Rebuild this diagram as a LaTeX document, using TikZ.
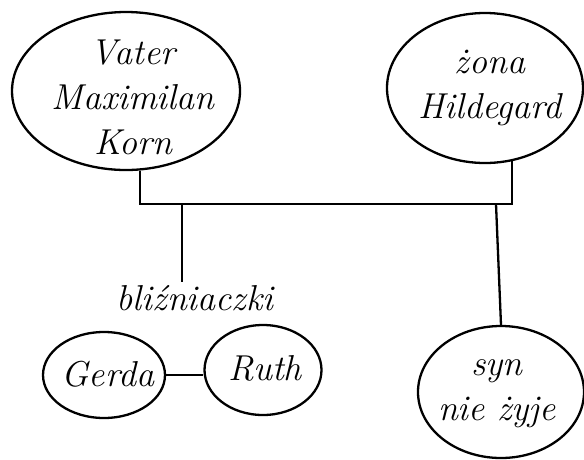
\documentclass[tikz,border=0pt]{standalone}
\usepackage{fontspec}
\usetikzlibrary{shapes.geometric}
\begin{document}
\begin{tikzpicture}[x=1pt,y=-1pt,
  person/.style={draw,ellipse,line width=2.3pt,inner sep=0pt},
  who/.style={align=center,font=\fontsize{36}{45}\selectfont\itshape},
  tie/.style={line width=2.3pt}]
\useasboundingbox (0,0) rectangle (584,459);
% parents
\node[person,minimum width=228pt,minimum height=158pt] (father) at (126,91) {};
\node[who] (fathertext) at (133,97) {Vater\\Maximilan\\Korn};
\node[person,minimum width=196pt,minimum height=150pt] (wife) at (485,88) {};
\node[who] (wifetext) at (490,88) {żona\\Hildegard};
% children
\node[person,minimum width=166pt,minimum height=132pt] (son) at (501,392) {};
\node[who] (sontext) at (497,394) {syn\\nie żyje};
\node[person,minimum width=122pt,minimum height=86pt] (gerda) at (104,375) {};
\node[who] (gerdatext) at (108,374) {Gerda};
\node[person,minimum width=117pt,minimum height=90pt] (ruth) at (263,370) {};
\node[who] (ruthtext) at (265,368) {Ruth};
\node[who] (twins) at (195,298) {bliźniaczki};
% marriage bar and descent lines
\coordinate (bar) at (0,204);
\coordinate (twinstop) at (182,204);
\coordinate (sontop) at (496,204);
\draw[tie] (father.-80) -- (father.-80 |- bar) -| (wife.-70);
\draw[tie] (twinstop) -- (twinstop |- twins.north);
\draw[tie] (sontop) -- (son.north);
\draw[tie] (gerda.east) -- (ruth.west |- gerda.east);
\end{tikzpicture}
\end{document}
